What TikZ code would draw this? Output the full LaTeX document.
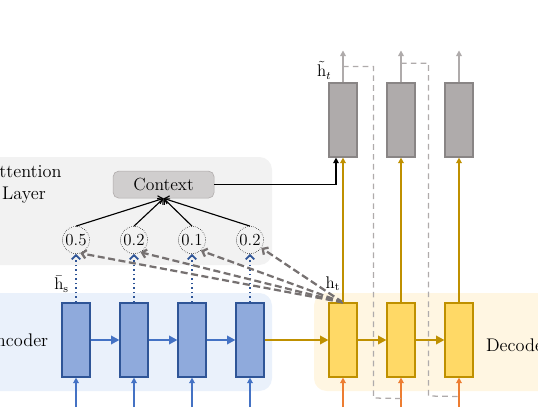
\documentclass[tikz,border=0pt]{standalone}
\usepackage{tikz}
\usetikzlibrary{arrows.meta, positioning, calc}
\usepackage{amsmath}
\definecolor{encfill}{RGB}{143, 170, 220}
\definecolor{encline}{RGB}{47, 85, 151}
\definecolor{encarrow}{RGB}{68, 114, 196}
\definecolor{encbg}{RGB}{234, 241, 251}
\definecolor{decfill}{RGB}{255, 217, 102}
\definecolor{decline}{RGB}{191, 144, 0}
\definecolor{decbg}{RGB}{255, 246, 226}
\definecolor{inorange}{RGB}{237, 125, 49}
\definecolor{outfill}{RGB}{175, 171, 171}
\definecolor{outline}{RGB}{137, 133, 133}
\definecolor{attbg}{RGB}{242, 242, 242}
\definecolor{ctxfill}{RGB}{208, 206, 206}
\definecolor{ctxline}{RGB}{174, 170, 170}
\definecolor{scoregray}{RGB}{118, 113, 113}
\definecolor{feedgray}{RGB}{175, 171, 171}

\begin{document}
\begin{tikzpicture}[
  cell/.style={draw, line width=0.8pt, minimum width=0.7cm, minimum height=1.85cm, inner sep=0pt},
  enccell/.style={cell, draw=encline, fill=encfill},
  deccell/.style={cell, draw=decline, fill=decfill},
  outcell/.style={cell, draw=outline, fill=outfill},
  score/.style={circle, draw, densely dotted, minimum size=0.68cm, inner sep=0.5pt, font=\large},
  region/.style={rounded corners=9pt, draw=none},
  label/.style={font=\fontsize{13}{15.5}\selectfont, align=center},
  encflow/.style={draw=encarrow, line width=1.5pt, -{Triangle[length=6pt, width=6pt]}},
  decflow/.style={draw=decline, line width=1.8pt, -{Triangle[length=6pt, width=6pt]}},
  hidden/.style={draw=encline, line width=1.2pt, dotted, -{Straight Barb[length=3pt, width=6pt]}},
  query/.style={draw=scoregray, line width=1.6pt, dash pattern=on 5pt off 2.5pt, -{Straight Barb[length=3pt, width=6pt]}},
  weight/.style={draw=black, line width=0.8pt, -{Straight Barb[length=3pt, width=6pt]}},
  feed/.style={draw=feedgray, line width=0.9pt, dash pattern=on 4pt off 3pt},
  inpt/.style={line width=1pt, -{Triangle[length=4pt, width=4pt]}}
]
  \useasboundingbox (0, 0) rectangle (13.45, 10.175);

  % Backgrounds
  \fill[region, encbg] (-0.5, 0.4) rectangle (6.8, 2.85);
  \fill[region, attbg] (-0.5, 3.55) rectangle (6.8, 6.25);
  \fill[region, decbg] (7.85, 0.4) rectangle (14, 2.85);

  \node[label] (enclabel) at (0.4, 1.675) {Encoder};
  \node[label] (declabel) at (12.95, 1.55) {Decoder};
  \node[label] (attlabel) at (0.6, 5.575) {Attention\\Layer};

  % Encoder cells
  \node[enccell] (e1) at (1.9, 1.675) {};
  \node[enccell] (e2) at (3.35, 1.675) {};
  \node[enccell] (e3) at (4.8, 1.675) {};
  \node[enccell] (e4) at (6.25, 1.675) {};

  % Decoder cells
  \node[deccell] (d1) at (8.575, 1.675) {};
  \node[deccell] (d2) at (10.025, 1.675) {};
  \node[deccell] (d3) at (11.475, 1.675) {};

  % Attentional hidden states
  \node[outcell] (g1) at (8.575, 7.175) {};
  \node[outcell] (g2) at (10.025, 7.175) {};
  \node[outcell] (g3) at (11.475, 7.175) {};

  % Attention weights
  \node[score] (c1) at (1.9, 4.175) {0.5};
  \node[score] (c2) at (3.35, 4.175) {0.2};
  \node[score] (c3) at (4.8, 4.175) {0.1};
  \node[score] (c4) at (6.25, 4.175) {0.2};

  \node[draw=ctxline, fill=ctxfill, rounded corners=4pt, minimum width=2.525cm, minimum height=0.675cm, font=\fontsize{12.5}{15}\selectfont] (ctx) at (4.09, 5.56) {Context};

  % Inputs
  \draw[inpt, encarrow] (e1.south |- 0, 0) -- (e1.south);
  \draw[inpt, encarrow] (e2.south |- 0, 0) -- (e2.south);
  \draw[inpt, encarrow] (e3.south |- 0, 0) -- (e3.south);
  \draw[inpt, encarrow] (e4.south |- 0, 0) -- (e4.south);
  \draw[inpt, inorange] (d1.south |- 0, 0) -- (d1.south);
  \draw[inpt, inorange] (d2.south |- 0, 0) -- (d2.south);
  \draw[inpt, inorange] (d3.south |- 0, 0) -- (d3.south);

  % Recurrence
  \draw[encflow] (e1) -- (e2);
  \draw[encflow] (e2) -- (e3);
  \draw[encflow] (e3) -- (e4);
  \draw[decflow] (e4) -- (d1);
  \draw[decflow] (d1) -- (d2);
  \draw[decflow] (d2) -- (d3);

  % Source states to scores
  \draw[hidden] (e1) -- (c1);
  \draw[hidden] (e2) -- (c2);
  \draw[hidden] (e3) -- (c3);
  \draw[hidden] (e4) -- (c4);

  % Target state to scores
  \draw[query] (d1.north) -- (c1.-72);
  \draw[query] (d1.north) -- (c2.-62);
  \draw[query] (d1.north) -- (c3.-50);
  \draw[query] (d1.north) -- (c4.-35);

  \node[font=\large] (hs) at ($(e1.north)!0.5!(c1.south) + (-0.36, -0.15)$) {$\bar{\mathrm{h}}_{\mathrm{s}}$};
  \node[font=\large] (ht) at ($(d1.north) + (-0.25, 0.475)$) {$\mathrm{h}_{\mathrm{t}}$};

  % Weighted sum
  \draw[weight] (c1.north) -- (ctx.south);
  \draw[weight] (c2.north) -- (ctx.south);
  \draw[weight] (c3.north) -- (ctx.south);
  \draw[weight] (c4.north) -- (ctx.south);

  \coordinate (ctxin) at ($(g1.south) + (-0.175, 0)$);
  \draw[line width=0.9pt, -{Triangle[length=4pt, width=4pt]}] (ctx.east) -| (ctxin);

  % Decoder states up
  \draw[inpt, decline] (d1) -- (g1);
  \draw[inpt, decline] (d2) -- (g2);
  \draw[inpt, decline] (d3) -- (g3);

  % Outputs
  \coordinate (o1) at ($(g1.north) + (0, 0.8)$);
  \coordinate (o2) at ($(g2.north) + (0, 0.8)$);
  \coordinate (o3) at ($(g3.north) + (0, 0.8)$);
  \draw[inpt, feedgray] (g1) -- (o1);
  \draw[inpt, feedgray] (g2) -- (o2);
  \draw[inpt, feedgray] (g3) -- (o3);

  \node[font=\large] (htil) at ($(g1.north) + (-0.47, 0.3)$) {$\tilde{\mathrm{h}}_t$};

  % Input feeding
  \draw[feed] ($(g1.north)!0.5!(o1)$) -| ($(d1.east)!0.55!(d2.west) + (0, -1.45)$) -- ($(d2.south) + (0, -0.525)$);
  \draw[feed] ($(g2.north)!0.6!(o2)$) -| ($(d2.east)!0.45!(d3.west) + (0, -1.4)$) -- ($(d3.south) + (0, -0.475)$);
\end{tikzpicture}
\end{document}
